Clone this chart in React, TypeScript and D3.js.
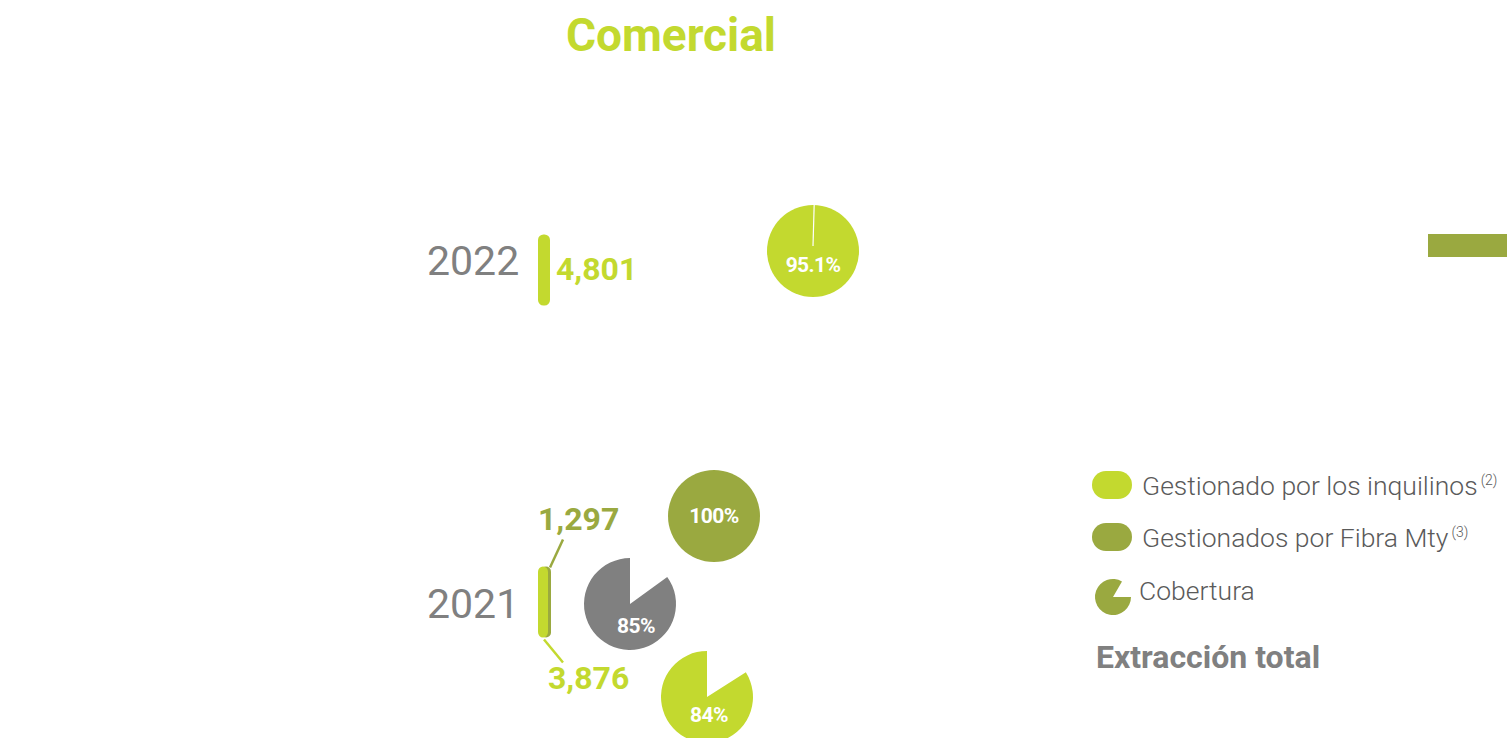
import React from "react";
import * as d3 from "d3";

const title = "Comercial";
const years = ["2022", "2021"];
const tenantValues = [4801, 3876];
const fibraValues: (number | null)[] = [null, 1297];
const tenantCoverage = [95.1, 84];
const fibraCoverage: (number | null)[] = [null, 100];
const totalCoverage: (number | null)[] = [null, 85];
const legendLabels = ["Gestionado por los inquilinos", "Gestionados por Fibra Mty", "Cobertura"];
const legendNotes = ["(2)", "(3)", ""];
const footerLabel = "Extracción total";

const LIGHT = "#c3d92f";
const DARK = "#9aa940";
const GRAY = "#808080";
const TEXT = "#5a5a5a";
const FONT = "Roboto, 'Noto Sans', sans-serif";
const fmt = d3.format(",");

const R = 46;
const arcGen = d3.arc<any>().innerRadius(0).outerRadius(R);

function Pie({ cx, cy, pct, color, lx, ly, thin }: { cx: number; cy: number; pct: number; color: string; lx: number; ly: number; thin?: boolean }) {
  const missing = (1 - pct / 100) * 2 * Math.PI;
  const start = pct >= 100 ? 0 : thin ? 0 : missing;
  const d = arcGen({ startAngle: start, endAngle: 2 * Math.PI }) as string;
  const label = (pct % 1 === 0 ? d3.format("d")(pct) : d3.format(".1f")(pct)) + "%";
  return (
    <g transform={`translate(${cx},${cy})`}>
      <path d={d} fill={color} />
      {thin && <line x1={0} y1={-5} x2={1.2} y2={-R - 1} stroke="#fff" strokeWidth={1.2} />}
      <text x={lx} y={ly} textAnchor="middle" fill="#fff" fontFamily={FONT} fontWeight={700} fontSize={21} letterSpacing={-0.6}>
        {label}
      </text>
    </g>
  );
}

export default function App() {
  const yearY = d3.scalePoint<string>().domain(years).range([270, 602]);
  const barH = 71;
  const barX = 538;
  const legendArc = d3.arc<any>().innerRadius(0).outerRadius(18)({ startAngle: Math.PI / 2, endAngle: 2 * Math.PI + Math.PI / 6 }) as string;

  return (
    <svg width={1507} height={738} style={{ position: "absolute", left: 0, top: 0, display: "block" }}>
      <text x={671} y={51} textAnchor="middle" fill={LIGHT} fontFamily={FONT} fontWeight={700} fontSize={46}>
        {title}
      </text>

      <rect x={1428} y={234} width={79} height={23} fill={DARK} />

      {years.map((yr, i) => {
        const cy = yearY(yr)!;
        const top = cy - barH / 2;
        const hasFibra = fibraValues[i] != null;
        return (
          <g key={yr}>
            <text x={427} y={cy + (hasFibra ? 16 : 5)} fill={GRAY} fontFamily={FONT} fontWeight={400} fontSize={41}>
              {yr}
            </text>
            {hasFibra && <rect x={barX + 3} y={top} width={10} height={barH} rx={5} fill={DARK} />}
            <rect x={barX} y={top} width={hasFibra ? 10 : 12} height={barH} rx={5.5} fill={LIGHT} />
            {!hasFibra && (
              <text x={556} y={cy + 10} fill={LIGHT} fontFamily={FONT} fontWeight={700} fontSize={32}>
                {fmt(tenantValues[i])}
              </text>
            )}
            {hasFibra && (
              <g>
                <line x1={550} y1={top + 1} x2={563} y2={top - 27} stroke={DARK} strokeWidth={2.5} />
                <text x={538} y={top - 37} fill={DARK} fontFamily={FONT} fontWeight={700} fontSize={32}>
                  {fmt(fibraValues[i] as number)}
                </text>
                <line x1={544} y1={top + barH + 2} x2={563} y2={top + barH + 25} stroke={LIGHT} strokeWidth={2.5} />
                <text x={548} y={top + barH + 51} fill={LIGHT} fontFamily={FONT} fontWeight={700} fontSize={32}>
                  {fmt(tenantValues[i])}
                </text>
              </g>
            )}
            {!hasFibra && <Pie cx={813} cy={cy - 19} pct={tenantCoverage[i]} color={LIGHT} lx={0} ly={21} thin />}
            {hasFibra && (
              <g>
                <Pie cx={714} cy={516} pct={fibraCoverage[i] as number} color={DARK} lx={0} ly={7} />
                <Pie cx={630} cy={604} pct={totalCoverage[i] as number} color={GRAY} lx={6} ly={29} />
                <Pie cx={707} cy={697} pct={tenantCoverage[i]} color={LIGHT} lx={2} ly={25} />
              </g>
            )}
          </g>
        );
      })}

      {legendLabels.map((lab, i) => {
        const y = 485 + i * 52;
        return (
          <g key={lab}>
            {i < 2 ? (
              <rect x={1092} y={y - 14} width={40} height={28} rx={14} fill={i === 0 ? LIGHT : DARK} />
            ) : (
              <path d={legendArc} transform={`translate(1113,${y + 8})`} fill={DARK} />
            )}
            <text x={i < 2 ? 1142 : 1139} y={i < 2 ? y + 10 : y + 11} fill={TEXT} fontFamily={FONT} fontWeight={300} fontSize={26.5}>
              {lab}
              {legendNotes[i] && (
                <tspan dx={3} dy={-10} fontSize={14}>
                  {legendNotes[i]}
                </tspan>
              )}
            </text>
          </g>
        );
      })}

      <text x={1096} y={668} fill={GRAY} fontFamily={FONT} fontWeight={700} fontSize={32}>
        {footerLabel}
      </text>
    </svg>
  );
}
